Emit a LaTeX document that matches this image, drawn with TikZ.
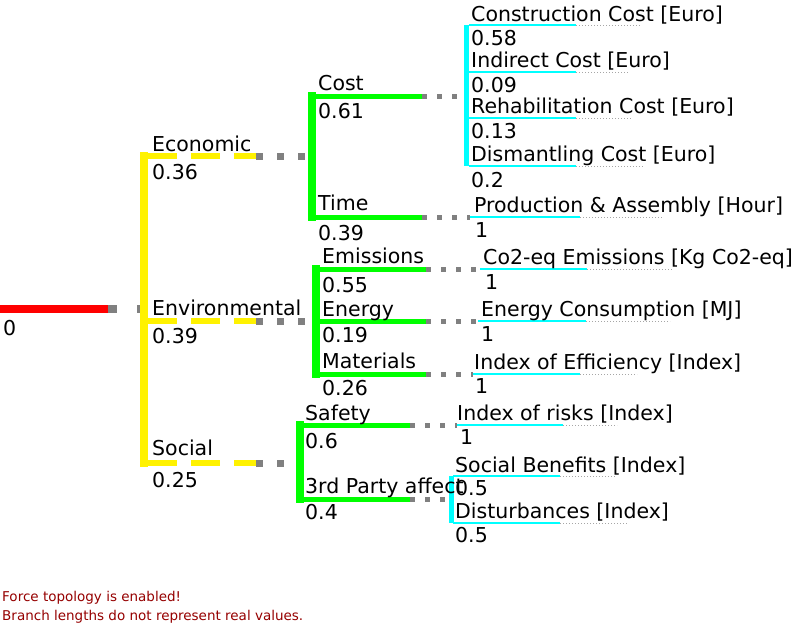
\documentclass[tikz,border=0pt]{standalone}
\usepackage{fontspec}
\setmainfont{DejaVu Sans}
\definecolor{branchgreen}{RGB}{0,255,0}
\definecolor{leafCyan}{RGB}{0,255,255}
\definecolor{noteRed}{RGB}{150,0,0}
\definecolor{linkGray}{RGB}{128,128,128}
\tikzset{
  lab/.style={anchor=base west,inner sep=0pt,font=\fontsize{20.5}{24}\selectfont},
  note/.style={anchor=base west,inner sep=0pt,text=noteRed,font=\fontsize{13.5}{16}\selectfont},
  trunk/.style={draw=red,line width=8pt},
  barA/.style={draw=yellow,line width=8pt,line cap=rect},
  barB/.style={draw=branchgreen,line width=8pt,line cap=rect},
  barC/.style={draw=leafCyan,line width=5pt},
  armA/.style={draw=yellow,line width=6pt,dash pattern=on 29pt off 14pt},
  armB/.style={draw=branchgreen,line width=5pt},
  leaf/.style={draw=leafCyan,line width=2pt},
  linkR/.style={draw=linkGray,line width=8pt,dash pattern=on 9pt off 20pt},
  linkA/.style={draw=linkGray,line width=7pt,dash pattern=on 7pt off 14pt},
  linkB/.style={draw=linkGray,line width=5pt,dash pattern=on 5pt off 10pt},
  tail/.style={draw=gray!70,line width=1pt,dash pattern=on 1pt off 2pt},
}
\begin{document}
\begin{tikzpicture}[x=1pt,y=-1pt]
\useasboundingbox[fill=white] (0,0) rectangle (800,624);
% joints of the tree
\coordinate (r0) at (0,309);
\coordinate (r1) at (108,309);
\coordinate (rj) at (144,309);
\coordinate (eco0) at (148,156);
\coordinate (eco1) at (256,156);
\coordinate (ecoj) at (312,156);
\coordinate (env0) at (148,321);
\coordinate (env1) at (256,321);
\coordinate (envj) at (315.5,321);
\coordinate (soc0) at (148,463);
\coordinate (soc1) at (256,463);
\coordinate (socj) at (299.5,463);
\coordinate (cost0) at (316,96);
\coordinate (cost1) at (422,96);
\coordinate (costj) at (466.5,96);
\coordinate (time0) at (316,217);
\coordinate (time1) at (422,217);
\coordinate (em0) at (319,269);
\coordinate (em1) at (426,269);
\coordinate (en0) at (319,321);
\coordinate (en1) at (426,321);
\coordinate (ma0) at (319,374);
\coordinate (ma1) at (426,374);
\coordinate (sa0) at (303,425);
\coordinate (sa1) at (410,425);
\coordinate (th0) at (303,499);
\coordinate (th1) at (410,499);
\coordinate (thj) at (451,499);
% leaves
\coordinate (cc) at (469,25);
\coordinate (ic) at (469,72);
\coordinate (rc) at (469,118);
\coordinate (dc) at (469,166);
\coordinate (pa) at (470,217);
\coordinate (co) at (480,269);
\coordinate (ec) at (478,321);
\coordinate (ie) at (473,374);
\coordinate (ir) at (457,425);
\coordinate (sb) at (453,476);
\coordinate (ds) at (453,523);

\draw[trunk] (r0) -- (r1);
\draw[linkR] (r1) -- (rj);
\draw[barA] (rj |- eco0) -- (rj |- soc0);
\draw[armA] (eco0) -- (eco1);
\draw[armA] (env0) -- (env1);
\draw[armA] (soc0) -- (soc1);
\draw[linkA] (eco1) -- ([xshift=-4pt]ecoj);
\draw[linkA] (env1) -- ([xshift=-4pt]envj);
\draw[linkA] (soc1) -- ([xshift=-4pt]socj);

\draw[barB] (ecoj |- cost0) -- (ecoj |- time0);
\draw[armB] (cost0) -- (cost1);
\draw[armB] (time0) -- (time1);
\draw[linkB] (cost1) -- ([xshift=-2.5pt]costj);
\draw[linkB] (time1) -- (pa);

\draw[barB] (envj |- em0) -- (envj |- ma0);
\draw[armB] (em0) -- (em1);
\draw[armB] (en0) -- (en1);
\draw[armB] (ma0) -- (ma1);
\draw[linkB] (em1) -- (co);
\draw[linkB] (en1) -- (ec);
\draw[linkB] (ma1) -- (ie);

\draw[barB] (socj |- sa0) -- (socj |- th0);
\draw[armB] (sa0) -- (sa1);
\draw[armB] (th0) -- (th1);
\draw[linkB] (sa1) -- (ir);
\draw[linkB] (th1) -- ([xshift=-2.5pt]thj);

\draw[barC] (costj |- cc) -- (costj |- dc);
\draw[barC] (thj |- sb) -- (thj |- ds);

\draw[leaf] (cc) -- ++(107,0) coordinate (ccE);
\draw[tail] (ccE) -- ++(64,0);
\draw[leaf] (ic) -- ++(107,0) coordinate (icE);
\draw[tail] (icE) -- ++(52,0);
\draw[leaf] (rc) -- ++(107,0) coordinate (rcE);
\draw[tail] (rcE) -- ++(55,0);
\draw[leaf] (dc) -- ++(107,0) coordinate (dcE);
\draw[tail] (dcE) -- ++(67,0);
\draw[leaf] (pa) -- ++(110,0) coordinate (paE);
\draw[tail] (paE) -- ++(82,0);
\draw[leaf] (co) -- ++(107,0) coordinate (coE);
\draw[tail] (coE) -- ++(86,0);
\draw[leaf] (ec) -- ++(108,0) coordinate (ecE);
\draw[tail] (ecE) -- ++(84,0);
\draw[leaf] (ie) -- ++(107,0) coordinate (ieE);
\draw[tail] (ieE) -- ++(57,0);
\draw[leaf] (ir) -- ++(106,0) coordinate (irE);
\draw[tail] (irE) -- ++(54,0);
\draw[leaf] (sb) -- ++(107,0) coordinate (sbE);
\draw[tail] (sbE) -- ++(55,0);
\draw[leaf] (ds) -- ++(107,0) coordinate (dsE);
\draw[tail] (dsE) -- ++(67,0);

\node[lab] (rootW) at (3,335) {0};
\node[lab] (ecoN) at (152,151) {Economic};
\node[lab] (ecoW) at (152,179) {0.36};
\node[lab] (envN) at (152,315) {Environmental};
\node[lab] (envW) at (152,343) {0.39};
\node[lab] (socN) at (152,455) {Social};
\node[lab] (socW) at (152,487) {0.25};

\node[lab] (costN) at (318,90) {Cost};
\node[lab] (costW) at (318,118) {0.61};
\node[lab] (timeN) at (318,210) {Time};
\node[lab] (timeW) at (318,240) {0.39};
\node[lab] (emN) at (322,263) {Emissions};
\node[lab] (emW) at (322,292) {0.55};
\node[lab] (enN) at (322,316) {Energy};
\node[lab] (enW) at (322,342) {0.19};
\node[lab] (maN) at (322,368) {Materials};
\node[lab] (maW) at (322,395) {0.26};
\node[lab] (saN) at (305,420) {Safety};
\node[lab] (saW) at (305,448) {0.6};
\node[lab] (thN) at (305,493) {3rd Party affect};
\node[lab] (thW) at (305,519) {0.4};

\node[lab] (ccN) at (471,21) {Construction Cost [Euro]};
\node[lab] (ccW) at (471,45) {0.58};
\node[lab] (icN) at (471,67) {Indirect Cost [Euro]};
\node[lab] (icW) at (471,92) {0.09};
\node[lab] (rcN) at (471,113) {Rehabilitation Cost [Euro]};
\node[lab] (rcW) at (471,138) {0.13};
\node[lab] (dcN) at (471,161) {Dismantling Cost [Euro]};
\node[lab] (dcW) at (471,187) {0.2};
\node[lab] (paN) at (474,212) {Production \& Assembly [Hour]};
\node[lab] (paW) at (475,237) {1};
\node[lab] (coN) at (483,264) {Co2-eq Emissions [Kg Co2-eq]};
\node[lab] (coW) at (485,289) {1};
\node[lab] (ecN) at (481,316) {Energy Consumption [MJ]};
\node[lab] (ecW) at (481,341) {1};
\node[lab] (ieN) at (474,369) {Index of Efficiency [Index]};
\node[lab] (ieW) at (475,393) {1};
\node[lab] (irN) at (457,420) {Index of risks [Index]};
\node[lab] (irW) at (460,444) {1};
\node[lab] (sbN) at (455,472) {Social Benefits [Index]};
\node[lab] (sbW) at (455,495) {0.5};
\node[lab] (dsN) at (455,518) {Disturbances [Index]};
\node[lab] (dsW) at (455,542) {0.5};

\node[note] (note1) at (2,601) {Force topology is enabled!};
\node[note] (note2) at (2,620) {Branch lengths do not represent real values.};
\end{tikzpicture}
\end{document}
